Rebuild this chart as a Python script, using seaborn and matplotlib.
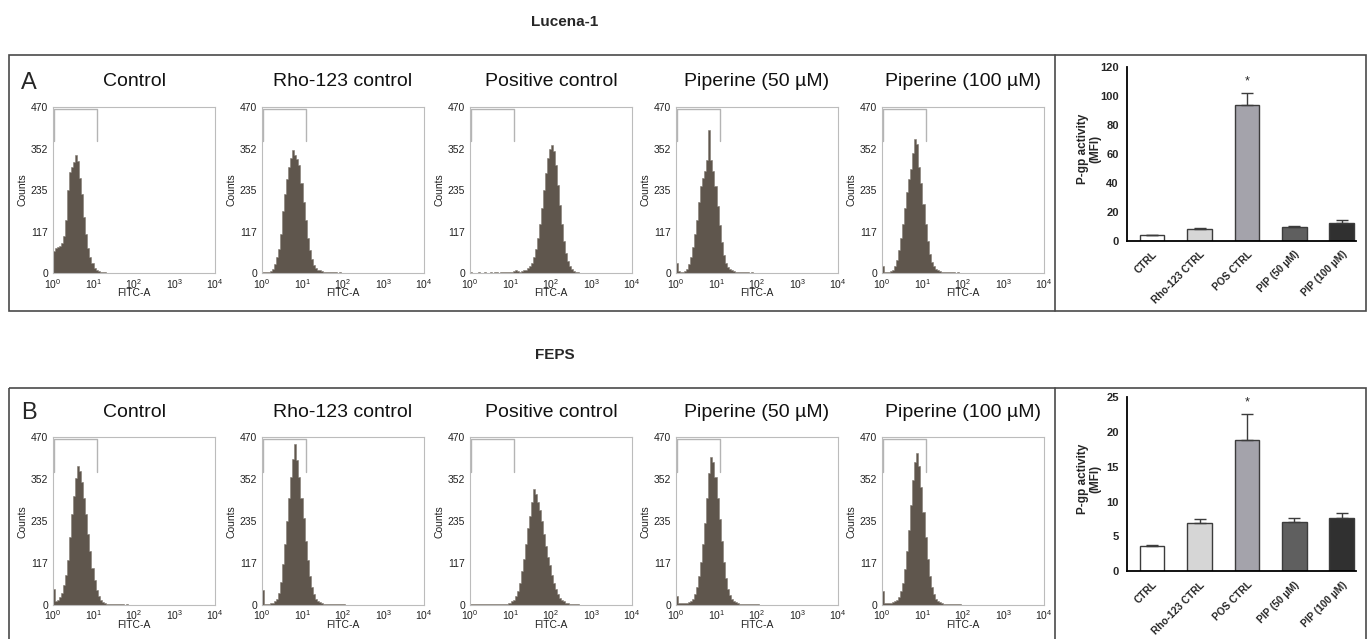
import numpy as np
import seaborn as sns
import matplotlib.pyplot as plt
from matplotlib.patches import Rectangle

W, H = 1371, 639
BIN = 0.05  # one histogram bin = 0.05 decade of FITC-A
HIST_COLOR = "#5f564d"

panel_titles = ["Control", "Rho-123 control", "Positive control", "Piperine (50 µM)", "Piperine (100 µM)"]
count_ticks = [0, 117, 235, 352, 470]
decades = [0, 1, 2, 3, 4]
gate_x = [0.02, 1.09]
gate_y = [374, 464]

# counts per bin, first bin starts at 10^0
lucena_control = [62, 70, 74, 78, 85, 105, 150, 235, 285, 300, 315, 335, 318, 270, 225, 160, 110, 72, 45, 28,
                  16, 10, 6, 4, 3, 3, 2, 2, 2, 1, 2, 1, 1, 1, 1, 1, 1, 0, 1, 0]
lucena_rho = [3, 3, 4, 4, 6, 12, 25, 45, 68, 110, 175, 225, 265, 300, 325, 348, 335, 322, 305, 255,
              200, 150, 100, 65, 40, 24, 15, 10, 8, 6, 5, 4, 4, 3, 3, 3, 3, 2, 3, 2,
              2, 2, 1, 1, 1, 1, 1, 0]
lucena_pos = [3, 2, 2, 2, 3, 2, 2, 3, 2, 2, 3, 2, 3, 3, 2, 3, 3, 4, 3, 4,
              4, 6, 10, 6, 5, 6, 8, 10, 14, 20, 30, 45, 68, 100, 140, 185, 235, 282, 325, 352,
              362, 345, 305, 250, 192, 138, 92, 58, 35, 20, 12, 7, 5, 3, 2, 2, 1, 1]
lucena_pip50 = [28, 6, 5, 5, 7, 12, 25, 45, 75, 110, 150, 200, 245, 270, 290, 320, 405, 320, 290, 245,
                190, 135, 88, 52, 30, 18, 12, 8, 6, 5, 4, 4, 3, 3, 3, 3, 2, 3, 2, 2,
                2, 2, 1, 1, 1, 1, 0]
lucena_pip100 = [22, 5, 5, 5, 6, 10, 20, 38, 65, 100, 140, 185, 230, 265, 295, 340, 380, 365, 300, 255,
                 195, 140, 90, 55, 32, 20, 13, 9, 7, 5, 4, 4, 3, 3, 3, 3, 2, 3, 2, 2,
                 2, 1, 1, 1, 1, 0]

feps_control = [45, 10, 15, 22, 35, 55, 85, 125, 190, 255, 305, 355, 390, 375, 345, 300, 255, 200, 150, 105,
                70, 42, 25, 15, 9, 6, 4, 3, 3, 3, 2, 3, 2, 2, 2, 1, 2, 1, 1, 1]
feps_rho = [42, 4, 4, 4, 5, 7, 10, 18, 35, 65, 115, 170, 235, 300, 360, 410, 450, 405, 360, 300,
            245, 180, 125, 80, 50, 30, 18, 12, 8, 6, 4, 4, 3, 3, 3, 3, 2, 2, 2, 2,
            2, 1, 1, 1, 1, 0]
feps_pos = [3, 2, 2, 3, 2, 2, 2, 3, 2, 2, 3, 2, 3, 2, 3, 3, 3, 4, 4, 6,
            10, 15, 25, 40, 62, 95, 130, 170, 215, 250, 290, 325, 310, 290, 265, 235, 200, 165, 135, 112,
            85, 62, 45, 30, 20, 14, 10, 7, 5, 4, 3, 3, 2, 2, 1, 1]
feps_pip50 = [25, 5, 5, 5, 6, 7, 9, 12, 18, 30, 50, 80, 120, 170, 230, 300, 370, 415, 400, 360,
              300, 240, 180, 120, 75, 45, 28, 18, 12, 8, 6, 4, 3, 3, 3, 3, 2, 2, 2, 2,
              2, 1, 1, 1, 1, 0]
feps_pip100 = [40, 5, 5, 6, 7, 8, 10, 14, 22, 38, 62, 100, 150, 210, 280, 350, 400, 425, 390, 330,
               260, 190, 130, 80, 50, 30, 18, 12, 8, 5, 4, 3, 3, 3, 3, 2, 2, 2, 2, 1,
               1, 1, 1, 0]

bar_labels = ["CTRL", "Rho-123 CTRL", "POS CTRL", "PIP (50 µM)", "PIP (100 µM)"]
bar_colors = ["#ffffff", "#d6d6d6", "#a4a3ab", "#5f5f5f", "#303030"]
lucena_mfi = [3.6, 8.2, 93.9, 9.5, 12.2]
lucena_err = [0.2, 0.8, 8.3, 0.8, 1.8]
lucena_ticks = [0, 20, 40, 60, 80, 100, 120]
feps_mfi = [3.65, 6.95, 18.9, 7.15, 7.65]
feps_err = [0.1, 0.6, 3.7, 0.55, 0.7]
feps_ticks = [0, 5, 10, 15, 20, 25]

# layout in pixels of the 1371x639 picture
hist_lefts = [53, 262, 470, 676, 882]
HIST_W = 162
ROW_TOPS = [106.7, 437.3]
ROW_BOTS = [273.3, 605.0]
BAR_BOX = [(1127, 67.3, 1356, 240.7), (1127, 397.3, 1356, 571.3)]


def add_px_axes(fig, left, top, right, bottom):
    return fig.add_axes([left / W, 1 - bottom / H, (right - left) / W, (bottom - top) / H])


def draw_hist(ax, counts):
    n = len(counts)
    centers = (np.arange(n) + 0.5) * BIN
    sns.histplot(x=centers, weights=counts, bins=n, binrange=(0, n * BIN), element="step", fill=True,
                 color=HIST_COLOR, alpha=1, linewidth=0.4, edgecolor="#847c74", ax=ax)
    ax.plot([gate_x[0], gate_x[0], gate_x[1], gate_x[1]],
            [gate_y[0], gate_y[1], gate_y[1], gate_y[0]], color="#b4b4b4", lw=1)
    ax.set_xlim(0, 4)
    ax.set_ylim(0, 470)
    ax.set_xticks(decades)
    ax.set_xticklabels([f"$10^{{{d}}}$" for d in decades])
    ax.set_yticks(count_ticks)
    ax.tick_params(axis="both", direction="out", length=2.5, width=0.6, color="#999999",
                   labelsize=7.5, labelcolor="#222222")
    ax.tick_params(axis="x", pad=0)
    ax.tick_params(axis="y", pad=1)
    for s in ax.spines.values():
        s.set_color("#bcbcbc")
        s.set_linewidth(0.8)
    ax.set_ylabel("Counts", fontsize=7.5, color="#222222")
    ax.yaxis.set_label_coords(-0.16, 0.5)
    ax.set_xlabel("FITC-A", fontsize=7.5, color="#222222")
    ax.xaxis.set_label_coords(0.5, -0.088)


def draw_bars(ax, mfi, err, ticks):
    sns.barplot(x=bar_labels, y=mfi, hue=bar_labels, palette=bar_colors, legend=False,
                width=0.52, saturation=1, edgecolor="#3c3c3c", linewidth=1, errorbar=None, ax=ax)
    pos = np.arange(len(mfi))
    ax.errorbar(pos, mfi, yerr=[np.zeros(len(err)), err], fmt="none", ecolor="#3c3c3c",
                elinewidth=1, capsize=4, capthick=1, zorder=1)
    top = ticks[-1]
    ax.text(2, mfi[2] + err[2] + 0.065 * top, "*", ha="center", va="center", fontsize=9)
    ax.set_xlim(-0.53, 4.3)
    ax.set_ylim(0, top)
    ax.set_yticks(ticks)
    sns.despine(ax=ax)
    for side in ["left", "bottom"]:
        ax.spines[side].set_color("black")
        ax.spines[side].set_linewidth(1.3)
    ax.tick_params(axis="both", direction="out", length=4, width=1.1, color="black", pad=2)
    ax.tick_params(axis="y", labelsize=8)
    ax.set_xticks(pos)
    ax.set_xticklabels(bar_labels, rotation=45, ha="right", rotation_mode="anchor",
                       fontsize=7.3, fontweight="bold")
    for lab in ax.get_yticklabels():
        lab.set_fontweight("bold")
    ax.set_xlabel("")
    ax.set_ylabel("P-gp activity\n(MFI)", fontsize=8.5, fontweight="bold", linespacing=1.1)
    ax.yaxis.set_label_coords(-0.11, 0.53)


def main():
    sns.set_theme(style="white")
    plt.rcParams["font.family"] = ["Liberation Sans", "DejaVu Sans"]
    plt.rcParams["mathtext.default"] = "regular"

    fig = plt.figure(figsize=(W / 100, H / 100), dpi=100)

    bg = fig.add_axes([0, 0, 1, 1], zorder=-1)
    bg.set_xlim(0, W)
    bg.set_ylim(H, 0)
    bg.axis("off")
    for top, height in [(55, 256), (388, 262)]:
        bg.add_patch(Rectangle((9, top), 1357, height, fill=False, lw=1.2, ec="#4a4a4a"))
        bg.plot([1055, 1055], [top, min(top + height, H)], color="#4a4a4a", lw=1.2)

    bg.text(565, 22, "Lucena-1", ha="center", va="center", fontsize=11, fontweight="bold")
    bg.text(555, 355, "FEPS", ha="center", va="center", fontsize=11, fontweight="bold")

    rows = [
        ("A", [lucena_control, lucena_rho, lucena_pos, lucena_pip50, lucena_pip100], lucena_mfi, lucena_err, lucena_ticks),
        ("B", [feps_control, feps_rho, feps_pos, feps_pip50, feps_pip100], feps_mfi, feps_err, feps_ticks),
    ]

    for r, (letter, hists, mfi, err, ticks) in enumerate(rows):
        top, bot = ROW_TOPS[r], ROW_BOTS[r]
        bg.text(21, top - 18, letter, ha="left", va="baseline", fontsize=17)
        for i, counts in enumerate(hists):
            left = hist_lefts[i]
            ax = add_px_axes(fig, left, top, left + HIST_W, bot)
            draw_hist(ax, counts)
            bg.text(left + HIST_W / 2, top - 20.5, panel_titles[i], ha="center", va="baseline",
                    fontsize=14, color="#111111")
        bx = add_px_axes(fig, *BAR_BOX[r])
        draw_bars(bx, mfi, err, ticks)

    fig.savefig("out.png", dpi=100)


if __name__ == "__main__":
    main()
